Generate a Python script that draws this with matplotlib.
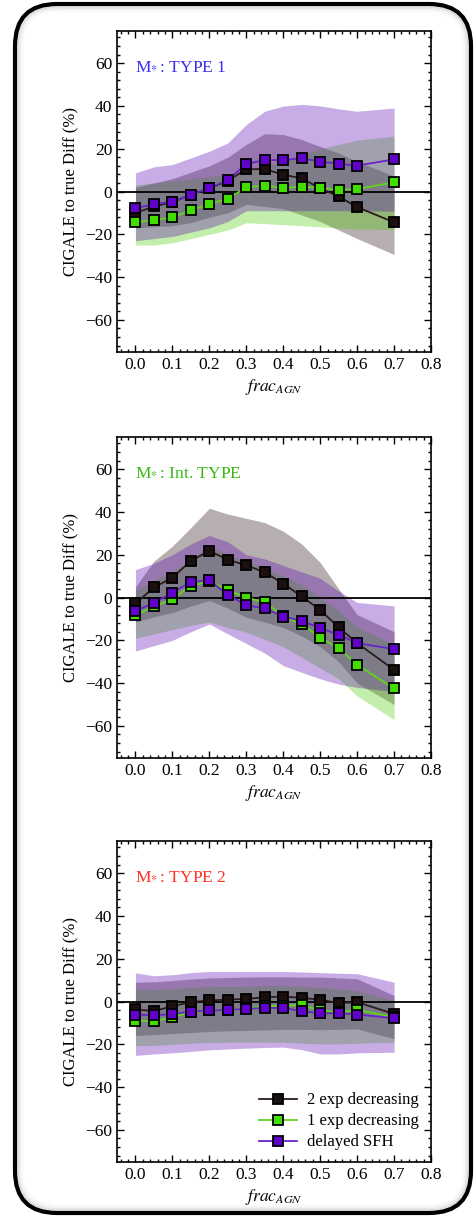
import matplotlib
matplotlib.use("Agg")
import matplotlib.pyplot as plt
from matplotlib.patches import FancyBboxPatch
from matplotlib.ticker import MultipleLocator

plt.rcParams['font.family'] = ['Liberation Serif', 'DejaVu Serif']
plt.rcParams['mathtext.fontset'] = 'stix'

frac_agn = [0.0, 0.05, 0.10, 0.15, 0.20, 0.25, 0.30, 0.35, 0.40, 0.45, 0.50, 0.55, 0.60, 0.70]
series_names = ["2 exp decreasing", "1 exp decreasing", "delayed SFH"]
panel_titles = [r"M$_{*}\,$: TYPE 1", r"M$_{*}\,$: Int. TYPE", r"M$_{*}\,$: TYPE 2"]
title_colors = ["#3b2cf0", "#35b80f", "#ff3020"]

# ---- TYPE 1 ----
t1_2exp = [-10, -7, -5, -1.5, 1.5, 5, 10.4, 10.5, 7.8, 6.2, 1.5, -2.3, -7.3, -14.4]
t1_1exp = [-14.3, -13.5, -12, -8.8, -5.9, -3.4, 1.9, 2.8, 1.6, 2.3, 1.6, 0.8, 1.1, 4.3]
t1_del = [-7.8, -5.9, -4.7, -1.6, 1.6, 5.4, 12.9, 14.7, 14.7, 15.5, 14, 12.9, 12.1, 15]
t1_2exp_lo = [-17, -16.5, -16, -14.5, -12, -10, -6, -7, -8, -11, -14, -18, -22, -29.4]
t1_2exp_hi = [2, 4, 6, 9, 12, 16, 22, 27, 26.6, 24.3, 21, 18, 14, 7.2]
t1_1exp_lo = [-25, -25, -24, -22, -20, -18, -14.6, -15, -15.5, -16, -16.5, -17, -17.5, -17.8]
t1_1exp_hi = [3, 4, 5, 6, 7, 8, 10, 12, 14, 17, 20, 22, 24, 25.9]
t1_del_lo = [-23, -22, -21, -19, -17, -14, -9, -9, -9, -9, -9, -9, -9, -9.2]
t1_del_hi = [8.7, 11.5, 12.6, 15.7, 18.8, 22.7, 31.3, 37.5, 39.9, 40.7, 40, 38.6, 37.5, 39]

# ---- Intermediate TYPE ----
ti_2exp = [-2.8, 4.7, 9.3, 17.1, 21.8, 17.6, 15.1, 11.7, 6.5, 0.5, -5.8, -14, -21.3, -33.8]
ti_1exp = [-8.3, -4.2, -0.8, 5.5, 7.5, 3.4, 0, -2.3, -8.6, -12.5, -18.7, -23.7, -31.5, -42.5]
ti_del = [-6.2, -2.6, 2.3, 7.3, 8.1, 1.2, -3.6, -5.1, -8.9, -10.9, -14.3, -17.4, -21.3, -24.1]
ti_2exp_lo = [-11.5, -9, -7, -4, -1.4, -5, -9.2, -11.5, -14, -18, -23, -30, -40, -50]
ti_2exp_hi = [5, 17, 24, 32.7, 41.7, 39, 37, 35, 31, 25, 16.4, 4, -8, -16]
ti_1exp_lo = [-19, -17, -15, -13, -11.5, -14, -16.2, -19.5, -23, -28, -33, -38, -46, -57]
ti_1exp_hi = [3, 8, 12, 18, 24, 20, 17, 14, 10, 6, 0, -6, -14, -22]
ti_del_lo = [-25, -22.5, -20, -16, -12.4, -17, -21.5, -26, -31.8, -35, -38, -40.5, -42, -44]
ti_del_hi = [13, 16, 20, 25, 29, 26, 20, 18, 15, 12, 9, 3, -2.3, -3.9]

# ---- TYPE 2 ----
t2_2exp = [-3.7, -4.5, -2.2, -0.3, 0.5, 0.9, 1.2, 2, 2.3, 1.7, 0.9, -0.8, -0.3, -5.8]
t2_1exp = [-8.9, -9.3, -7.3, -5, -4.2, -3.9, -3.1, -2.3, -1.9, -1.6, -4.2, -5, -3.9, -7.3]
t2_del = [-6.1, -6.5, -5.8, -4.7, -4.2, -3.9, -3.4, -3, -3, -4.5, -5.5, -5.5, -6.1, -7.8]
t2_2exp_lo = [-15.9, -15.5, -15, -14.5, -14, -13.7, -13.5, -13.3, -13, -13, -13.2, -13, -12.8, -17.4]
t2_2exp_hi = [9, 9.2, 9.8, 10.5, 11, 11.2, 11.4, 11.5, 11.5, 11.4, 11.4, 11, 10.6, 2.8]
t2_1exp_lo = [-20.6, -20.5, -20, -19.5, -19.2, -19, -19, -19, -19, -19.5, -19.8, -19.8, -19.5, -19]
t2_1exp_hi = [6, 5.5, 6, 6.5, 7, 7, 7, 7.5, 7.5, 7, 6.5, 6, 5, 0.5]
t2_del_lo = [-25.2, -24.5, -24, -23.3, -22.6, -22.2, -21.8, -21.5, -21.3, -22.5, -24.5, -24.5, -24, -23.7]
t2_del_hi = [13.4, 12, 12.5, 13.5, 14, 14, 14, 14, 14, 13.8, 13.5, 13.2, 13, 9]

panels = [
    [(t1_2exp, t1_2exp_lo, t1_2exp_hi), (t1_1exp, t1_1exp_lo, t1_1exp_hi), (t1_del, t1_del_lo, t1_del_hi)],
    [(ti_2exp, ti_2exp_lo, ti_2exp_hi), (ti_1exp, ti_1exp_lo, ti_1exp_hi), (ti_del, ti_del_lo, ti_del_hi)],
    [(t2_2exp, t2_2exp_lo, t2_2exp_hi), (t2_1exp, t2_1exp_lo, t2_1exp_hi), (t2_del, t2_del_lo, t2_del_hi)],
]

band_colors = ["#260d0d", "#4acc00", "#5904b2"]
band_alpha = 0.33
line_colors = ["#2b1b1b", "#5fd61a", "#6a22cc"]
face_colors = ["#1c0f0f", "#44dd00", "#6200cc"]

W, H = 474, 1217
fig = plt.figure(figsize=(W / 100, H / 100), dpi=100)

# rounded frame around the whole figure, with a soft inner shadow
bg = fig.add_axes([0, 0, 1, 1])
bg.set_xlim(0, W)
bg.set_ylim(H, 0)
bg.axis("off")
x0, y0, x1, y1 = 15, 4, 471, 1213
rad = 42
for i, a in enumerate([0.10, 0.07, 0.045, 0.025, 0.012]):
    d = 2.5 + i * 1.3
    bg.add_patch(FancyBboxPatch((x0 + d, y0 + d), (x1 - x0) - 2 * d, (y1 - y0) - 2 * d,
                                boxstyle=f"round,pad=0,rounding_size={rad - d}",
                                fill=False, ec="black", lw=1.4, alpha=a))
bg.add_patch(FancyBboxPatch((x0, y0), x1 - x0, y1 - y0,
                            boxstyle=f"round,pad=0,rounding_size={rad}",
                            fill=False, ec="black", lw=3.0))

left = 117 / W
width = (431 - 117) / W
tops = [31, 437, 841]
ax_h = 321

for p, (series, ttl, tcol) in enumerate(zip(panels, panel_titles, title_colors)):
    bottom = 1 - (tops[p] + ax_h) / H
    ax = fig.add_axes([left, bottom, width, ax_h / H])
    for k, (vals, lo, hi) in enumerate(series):
        ax.fill_between(frac_agn, lo, hi, color=band_colors[k], alpha=band_alpha, lw=0,
                        zorder=1 + k * 0.1)
    ax.axhline(0, color="black", lw=1.3, zorder=2)
    for k, (vals, lo, hi) in enumerate(series):
        ax.plot(frac_agn, vals, "-s", color=line_colors[k], mfc=face_colors[k], mec="black",
                mew=1.3, ms=7, lw=1.3, zorder=3 + k, label=series_names[k])
    ax.set_xlim(-0.05, 0.8)
    ax.set_ylim(-75, 75)
    ax.xaxis.set_major_locator(MultipleLocator(0.1))
    ax.xaxis.set_minor_locator(MultipleLocator(0.02))
    ax.yaxis.set_major_locator(MultipleLocator(20))
    ax.yaxis.set_minor_locator(MultipleLocator(4))
    ax.tick_params(which="both", direction="in", top=True, right=True, labelsize=12.5, width=1)
    ax.tick_params(which="major", length=5)
    ax.tick_params(which="minor", length=2.5)
    for s in ax.spines.values():
        s.set_linewidth(1.2)
    ax.set_xlabel(r"$frac_{AGN}$", fontsize=12.5, labelpad=3)
    ax.set_ylabel("CIGALE to true Diff (%)", fontsize=12, labelpad=4)
    ax.text(0.057, 0.89, ttl, transform=ax.transAxes, color=tcol, fontsize=12.5, va="center", ha="left")
    if p == 2:
        ax.legend(loc="lower right", frameon=False, fontsize=12, handlelength=2.3,
                  handletextpad=0.6, labelspacing=0.3, borderaxespad=0.3)

fig.savefig("out.png", dpi=100)
